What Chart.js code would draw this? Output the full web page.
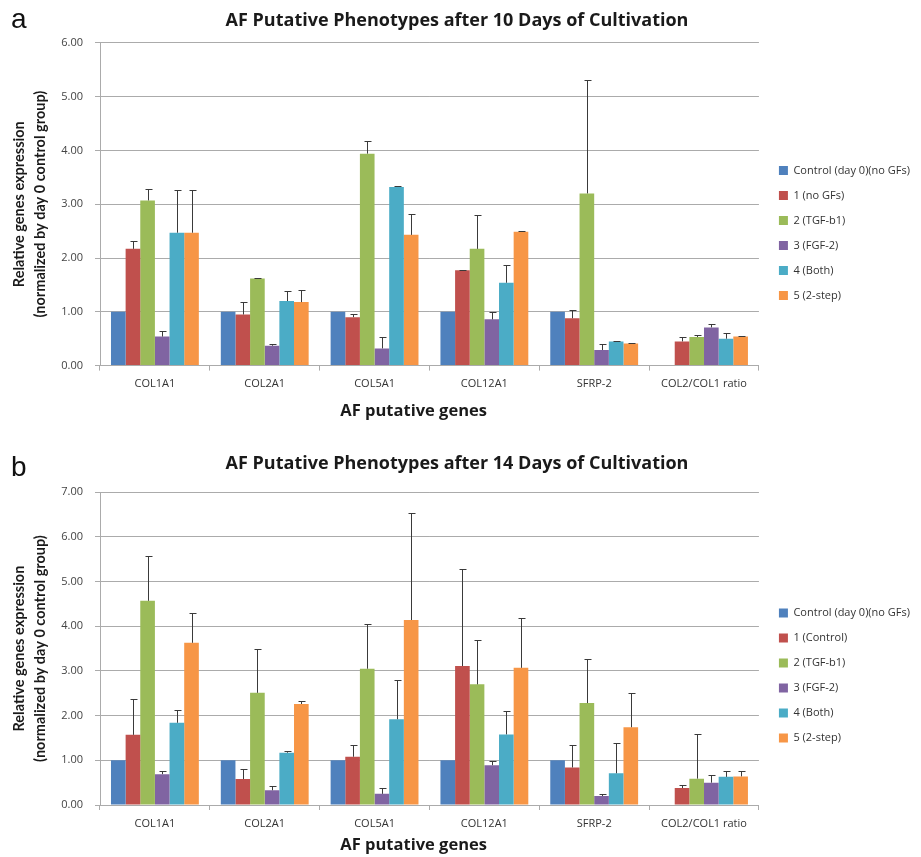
<!DOCTYPE html>
<html>
<head>
<meta charset="utf-8">
<script src="https://cdn.jsdelivr.net/npm/chart.js@4.4.0/dist/chart.umd.min.js"></script>
<style>
  html, body { margin: 0; padding: 0; background: #fff; }
  #page { position: relative; width: 921px; height: 857px; overflow: hidden; }
  .panneau { position: absolute; left: 0; width: 921px; }
  .lettre { position: absolute; left: 11px; font: 28px/28px 'Liberation Sans', sans-serif; color: #111; }
</style>
</head>
<body>
<div id="page">
  <div class="panneau" style="top:0;height:420px"><canvas id="chartA" width="921" height="420"></canvas></div>
  <div class="panneau" style="top:420px;height:437px"><canvas id="chartB" width="921" height="437"></canvas></div>
  <div class="lettre" style="top:5px">a</div>
  <div class="lettre" style="top:453px">b</div>
</div>

<script>
// ================================
// DONNÉES
// ================================

const GENES = ['COL1A1', 'COL2A1', 'COL5A1', 'COL12A1', 'SFRP-2', 'COL2/COL1 ratio'];

const COULEURS = ['#4F81BD', '#C0504D', '#9BBB59', '#8064A2', '#4BACC6', '#F79646'];

const NOMS_J10 = ['Control (day 0)(no GFs)', '1 (no GFs)', '2 (TGF-b1)', '3 (FGF-2)', '4 (Both)', '5 (2-step)'];
const NOMS_J14 = ['Control (day 0)(no GFs)', '1 (Control)', '2 (TGF-b1)', '3 (FGF-2)', '4 (Both)', '5 (2-step)'];

// 10 jours : valeurs moyennes
const J10_CONTROLE = [1.00, 1.00, 1.00, 1.00, 1.00, null];
const J10_G1 = [2.17, 0.95, 0.90, 1.77, 0.88, 0.45];
const J10_G2 = [3.07, 1.62, 3.94, 2.17, 3.20, 0.53];
const J10_G3 = [0.54, 0.37, 0.32, 0.86, 0.29, 0.71];
const J10_G4 = [2.47, 1.20, 3.32, 1.54, 0.45, 0.50];
const J10_G5 = [2.47, 1.18, 2.43, 2.49, 0.41, 0.54];

// 10 jours : écarts (barres d'erreur, vers le haut)
const J10_ERR_G1 = [0.15, 0.23, 0.05, 0.01, 0.15, 0.08];
const J10_ERR_G2 = [0.21, 0.01, 0.24, 0.62, 2.10, 0.04];
const J10_ERR_G3 = [0.11, 0.04, 0.21, 0.14, 0.11, 0.06];
const J10_ERR_G4 = [0.80, 0.19, 0.01, 0.33, 0.01, 0.10];
const J10_ERR_G5 = [0.80, 0.23, 0.39, 0.01, 0.01, 0.01];

// 14 jours : valeurs moyennes
const J14_CONTROLE = [1.00, 1.00, 1.00, 1.00, 1.00, null];
const J14_G1 = [1.57, 0.58, 1.08, 3.11, 0.84, 0.38];
const J14_G2 = [4.57, 2.51, 3.05, 2.70, 2.28, 0.59];
const J14_G3 = [0.69, 0.33, 0.25, 0.89, 0.20, 0.50];
const J14_G4 = [1.84, 1.17, 1.92, 1.58, 0.71, 0.63];
const J14_G5 = [3.63, 2.26, 4.14, 3.07, 1.74, 0.64];

// 14 jours : écarts
const J14_ERR_G1 = [0.81, 0.22, 0.26, 2.17, 0.50, 0.07];
const J14_ERR_G2 = [1.00, 0.99, 1.00, 1.00, 0.99, 0.99];
const J14_ERR_G3 = [0.06, 0.10, 0.13, 0.10, 0.05, 0.18];
const J14_ERR_G4 = [0.28, 0.04, 0.87, 0.52, 0.67, 0.12];
const J14_ERR_G5 = [0.67, 0.06, 2.39, 1.11, 0.77, 0.11];

const TITRE_Y = ['Relative genes expression', '(normalized by day 0 control group)'];
const TITRE_X = 'AF putative genes';

const POLICE = "'Open Sans', sans-serif";
const POLICE_AXE = "Lato, sans-serif";
const GRIS = '#ABABAB';

// ================================
// BARRES D'ERREUR (plugin)
// ================================

const pluginErreurs = {
  id: 'barresErreur',
  afterDatasetsDraw(chart) {
    const ctx = chart.ctx;
    const echelleY = chart.scales.y;
    chart.data.datasets.forEach(function(ds, i) {
      if (!ds.erreurs) return;
      chart.getDatasetMeta(i).data.forEach(function(barre, j) {
        const v = ds.data[j];
        const e = ds.erreurs[j];
        if (v == null || e == null) return;
        const x = Math.round(barre.x) + 0.5;
        const haut = Math.round(echelleY.getPixelForValue(v + e)) + 0.5;
        ctx.save();
        ctx.strokeStyle = '#3a3a3a';
        ctx.lineWidth = 1;
        ctx.beginPath();
        ctx.moveTo(x, barre.y);
        ctx.lineTo(x, haut);
        ctx.moveTo(x - 3, haut);
        ctx.lineTo(x + 4, haut);
        ctx.stroke();
        ctx.restore();
      });
    });
  }
};

// ================================
// LÉGENDE DÉCALÉE + TITRE AXE X
// ================================

const pluginMiseEnPage = {
  id: 'miseEnPage',
  afterLayout(chart, args, opts) {
    const l = chart.legend;
    if (!l) return;
    l.left += opts.dx;
    l.right += opts.dx;
    l.top += opts.dy;
    l.bottom += opts.dy;
  },
  afterDraw(chart, args, opts) {
    const ctx = chart.ctx;
    const zone = chart.chartArea;
    ctx.save();
    ctx.font = 'bold 16.5px ' + POLICE;
    ctx.fillStyle = '#1a1a1a';
    ctx.textAlign = 'center';
    ctx.textBaseline = 'middle';
    ctx.fillText(TITRE_X, zone.left + (zone.right - zone.left) * opts.centreX, opts.yTitreX);
    ctx.restore();
  }
};

// ================================
// GRAPHIQUE
// ================================

function creerGraphique(canvasId, titre, max, noms, valeurs, erreurs, r) {
  const datasets = noms.map(function(nom, i) {
    return {
      label: nom,
      data: valeurs[i],
      erreurs: erreurs[i],
      backgroundColor: COULEURS[i],
      borderWidth: 0,
      categoryPercentage: 0.8,
      barPercentage: 1.0
    };
  });

  new Chart(document.getElementById(canvasId), {
    type: 'bar',
    data: { labels: GENES, datasets: datasets },
    plugins: [pluginErreurs, pluginMiseEnPage],
    options: {
      responsive: false,
      animation: false,
      layout: { padding: { right: r.margeDroite } },
      plugins: {
        title: {
          display: true,
          text: titre,
          color: '#1a1a1a',
          font: { family: POLICE, size: 18, weight: 'bold' },
          padding: { top: r.titreHaut, bottom: r.titreBas }
        },
        legend: {
          position: 'right',
          labels: {
            boxWidth: 9,
            boxHeight: 9,
            padding: 14,
            color: '#333',
            font: { family: POLICE, size: 11 }
          }
        },
        miseEnPage: { dx: 6, dy: r.decalLegende, centreX: 0.476, yTitreX: r.yTitreX },
        tooltip: { enabled: false }
      },
      scales: {
        x: {
          grid: { offset: true, drawOnChartArea: false, drawTicks: true, tickLength: 5, color: GRIS },
          border: { color: GRIS },
          ticks: { color: '#333', padding: 7, font: { family: POLICE, size: 11 } },
          afterFit: function(s) { s.height = r.hauteurX; }
        },
        y: {
          min: 0,
          max: max,
          grid: { color: GRIS, tickLength: 5 },
          border: { color: GRIS },
          ticks: {
            stepSize: 1,
            padding: 12,
            color: '#444',
            font: { family: POLICE, size: 11 },
            callback: function(v) { return v.toFixed(2); }
          },
          title: {
            display: true,
            text: TITRE_Y,
            color: '#1a1a1a',
            font: { family: POLICE_AXE, size: 14.5, weight: 'bold', lineHeight: 1.5 },
            padding: { top: 8, bottom: 0 }
          },
          afterFit: function(s) { s.width = 100; }
        }
      }
    }
  });
}

creerGraphique('chartA', 'AF Putative Phenotypes after 10 Days of Cultivation', 6, NOMS_J10,
  [J10_CONTROLE, J10_G1, J10_G2, J10_G3, J10_G4, J10_G5],
  [null, J10_ERR_G1, J10_ERR_G2, J10_ERR_G3, J10_ERR_G4, J10_ERR_G5],
  { titreHaut: 10, titreBas: 11.2, hauteurX: 54.4, yTitreX: 411, decalLegende: 23, margeDroite: 7 });

creerGraphique('chartB', 'AF Putative Phenotypes after 14 Days of Cultivation', 7, NOMS_J14,
  [J14_CONTROLE, J14_G1, J14_G2, J14_G3, J14_G4, J14_G5],
  [null, J14_ERR_G1, J14_ERR_G2, J14_ERR_G3, J14_ERR_G4, J14_ERR_G5],
  { titreHaut: 33, titreBas: 17.6, hauteurX: 52, yTitreX: 425, decalLegende: 37, margeDroite: 7 });
</script>
</body>
</html>
